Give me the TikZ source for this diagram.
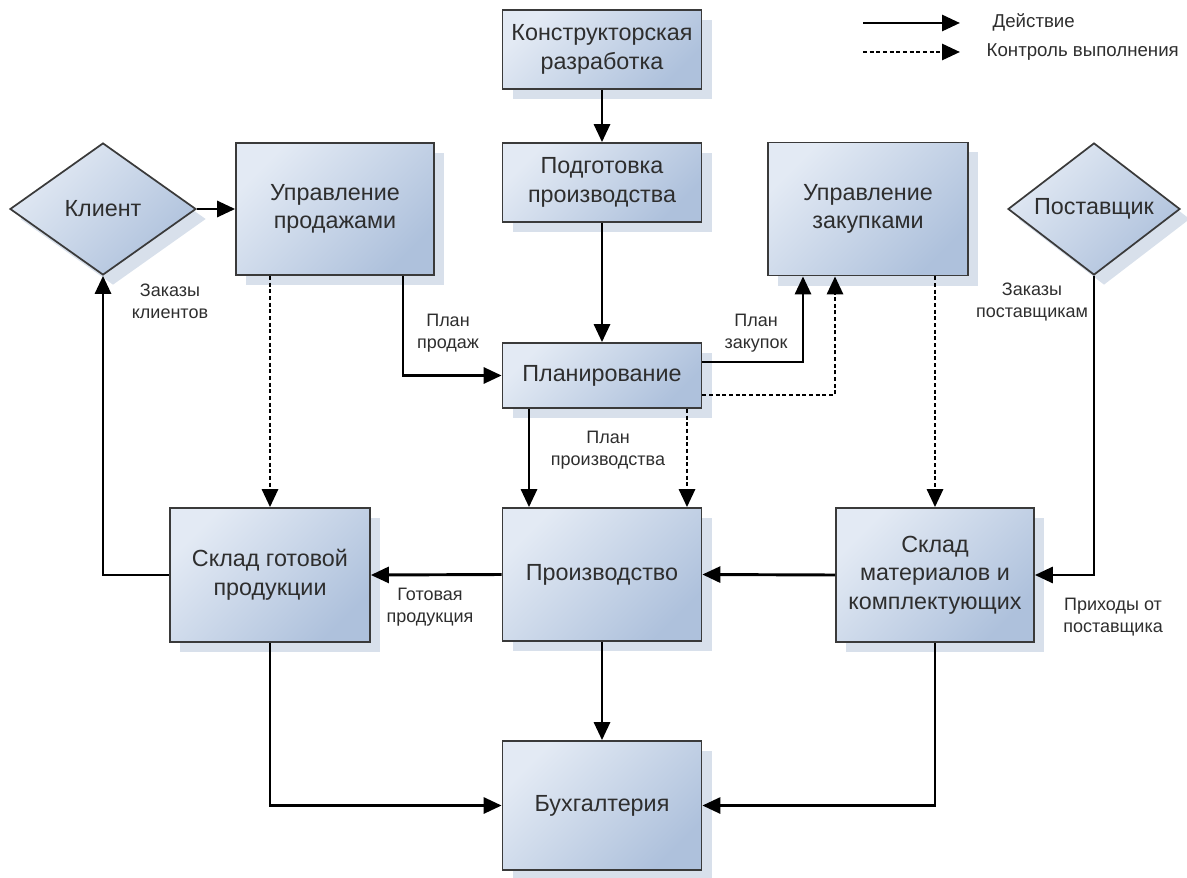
\documentclass[tikz,border=0pt]{standalone}
\usepackage{fontspec}
\setmainfont{Liberation Sans}
\usetikzlibrary{shapes.geometric,arrows.meta,shadows,calc}
\definecolor{boxlight}{HTML}{E3EAF4}
\definecolor{boxdark}{HTML}{AEC1DC}
\definecolor{shadowc}{HTML}{D8E0EB}
\definecolor{edgec}{HTML}{3A3A3A}
\definecolor{textc}{HTML}{2E2E2E}
\begin{document}
\begin{tikzpicture}[x=0.75pt,y=-0.75pt,
  block/.style={draw=edgec, line width=1.3pt, top color=boxlight, bottom color=boxdark, shading angle=45,
    drop shadow={shadow xshift=7.5pt, shadow yshift=-7.5pt, fill=shadowc, opacity=1},
    align=center, font=\fontsize{17.5}{21.5}\selectfont, text=textc, inner sep=2pt},
  rbox/.style={block, rectangle},
  dbox/.style={block, diamond, inner sep=0pt, aspect=1.4},
  flow/.style={line width=2.2pt, draw=black, -{Triangle[length=13.5pt,width=12pt]}},
  ctrl/.style={flow, dash pattern=on 3pt off 2pt},
  lbl/.style={font=\fontsize{13.5}{16.5}\selectfont, align=center, text=textc},
  leg/.style={font=\fontsize{14}{15}\selectfont, text=textc, anchor=west}
]
\useasboundingbox (0,0) rectangle (1187,877);

% boxes
\node[rbox, minimum width=149.25pt, minimum height=59.25pt] (kr) at (602,49.5) {Конструкторская\\разработка};
\node[rbox, minimum width=149.25pt, minimum height=59.25pt] (pp) at (602,182.5) {Подготовка\\производства};
\node[rbox, minimum width=148.5pt, minimum height=99pt] (up) at (335,209) {Управление\\продажами};
\node[rbox, minimum width=150pt, minimum height=99.75pt] (uz) at (868,209) {Управление\\закупками};
\node[rbox, minimum width=149.25pt, minimum height=48.75pt] (plan) at (602,375.5) {Планирование};
\node[rbox, minimum width=149.25pt, minimum height=99.75pt] (prod) at (602,574.5) {Производство};
\node[rbox, minimum width=150pt, minimum height=100.5pt] (sgp) at (270,575) {Склад готовой\\продукции};
\node[rbox, minimum width=148.5pt, minimum height=100.5pt] (smk) at (935,575) {Склад\\материалов и\\комплектующих};
\node[rbox, minimum width=149.25pt, minimum height=96.75pt] (buh) at (602,805.5) {Бухгалтерия};
\node[dbox, minimum width=139.5pt, minimum height=99pt] (kl) at (103,209) {Клиент};
\node[dbox, minimum width=129pt, minimum height=99pt] (post) at (1094,209) {Поставщик};

% solid connectors
\draw[flow] (kr) -- (pp);
\draw[flow] (pp) -- (plan);
\draw[flow] (kl.east) -- (up.west);
\draw[flow] ($(up.south)+(68,0)$) |- (plan.west);
\draw[flow] ($(plan.east)+(0,-13.5)$) -| ($(uz.south)+(-65,0)$);
\draw[flow] ($(plan.south)+(-73,0)$) -- ($(prod.north)+(-73,0)$);
\draw[flow] (post.south) |- (smk.east);
\draw[flow] (prod.west) -- (sgp.east);
\draw[flow] (smk.west) -- (prod.east);
\draw[flow] (sgp.west) -| (kl.south);
\draw[flow] (prod) -- (buh);
\draw[flow] (sgp.south) |- (buh.west);
\draw[flow] (smk.south) |- (buh.east);

% control connectors
\draw[ctrl] ($(plan.east)+(0,19.5)$) -| ($(uz.south)+(-33,0)$);
\draw[ctrl] ($(plan.south)+(85,0)$) -- ($(prod.north)+(85,0)$);
\draw[ctrl] (up.south -| sgp.north) -- (sgp.north);
\draw[ctrl] (uz.south -| smk.north) -- (smk.north);

% labels
\node[lbl] (l1) at (170,301) {Заказы\\клиентов};
\node[lbl] (l2) at (448,333) {План\\продаж};
\node[lbl] (l3) at (756,333) {План\\закупок};
\node[lbl] (l4) at (608,450) {План\\производства};
\node[lbl] (l5) at (1032,302) {Заказы\\поставщикам};
\node[lbl] (l6) at (430,607) {Готовая\\продукция};
\node[lbl] (l7) at (1113,617) {Приходы от\\поставщика};

% legend
\coordinate (la1) at (863,23);
\coordinate (la2) at (960,23);
\coordinate (lb1) at (863,52);
\coordinate (lb2) at (960,52);
\draw[flow] (la1) -- (la2);
\draw[ctrl] (lb1) -- (lb2);
\node[leg] (t1) at (988,22) {Действие};
\node[leg] (t2) at (982,52) {Контроль выполнения};
\end{tikzpicture}
\end{document}
